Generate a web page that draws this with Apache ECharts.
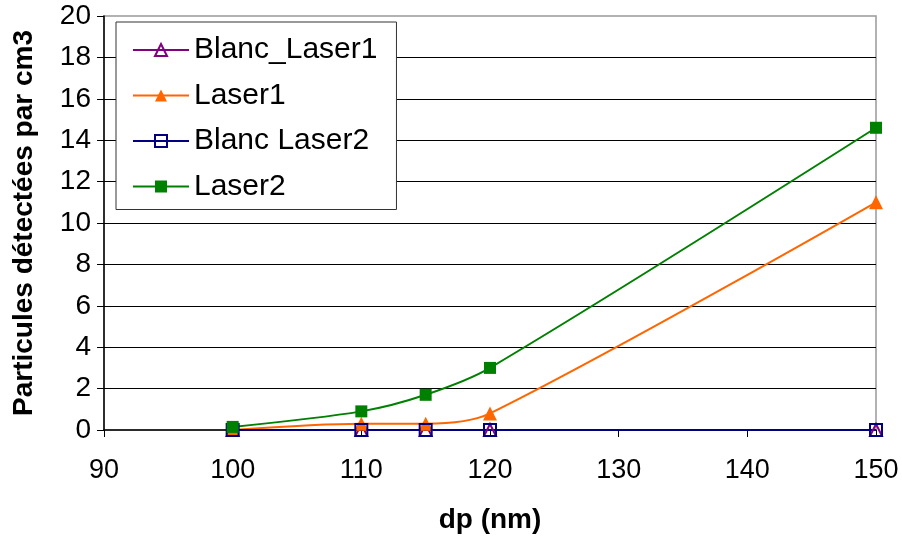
<!DOCTYPE html>
<html><head><meta charset="utf-8">
<script src="https://cdn.jsdelivr.net/npm/echarts@6/dist/echarts.min.js"></script>
<style>html,body{margin:0;padding:0;background:#fff}#c{width:902px;height:537px}</style>
</head><body><div id="c"></div>
<script>
const dp = [100, 110, 115, 120, 150];
const blancLaser1 = [0, 0, 0, 0, 0];
const laser1 = [0, 0.3, 0.3, 0.8, 11.0];
const blancLaser2 = [0, 0, 0, 0, 0];
const laser2 = [0.15, 0.9, 1.7, 3.0, 14.6];
const xTicks = [90, 100, 110, 120, 130, 140, 150];
const yTicks = [0, 2, 4, 6, 8, 10, 12, 14, 16, 18, 20];

const pairs = v => dp.map((x, i) => [x, v[i]]);
const FONT = 'Liberation Sans, Arial, sans-serif';

function mk(name, vals, color, symbol, hollow, size) {
  return {
    name, type: 'line', data: pairs(vals), smooth: 0.3,
    symbol, symbolSize: size,
    lineStyle: { color, width: 2 },
    itemStyle: hollow ? { color: 'rgba(0,0,0,0)', borderColor: color, borderWidth: 2 } : { color },
    emphasis: { disabled: true }
  };
}

const chart = echarts.init(document.getElementById('c'));
chart.setOption({
  animation: false,
  grid: { left: 104, right: 26, top: 16, bottom: 107, outerBoundsMode: 'none', containLabel: false,
          show: true, borderColor: '#999', borderWidth: 1.5, backgroundColor: 'transparent' },
  legend: {
    orient: 'vertical', left: 116, top: 22,
    backgroundColor: '#fff', borderColor: '#333', borderWidth: 1,
    padding: [13, 19, 8, 16], itemGap: 15.5, itemWidth: 56, itemHeight: 15,
    textStyle: { fontFamily: FONT, fontSize: 30, color: '#000' },
    data: ['Blanc_Laser1', 'Laser1', 'Blanc Laser2', 'Laser2']
  },
  xAxis: {
    type: 'value', min: xTicks[0], max: xTicks[xTicks.length - 1], interval: 10,
    name: 'dp (nm)', nameLocation: 'middle', nameGap: 76,
    nameTextStyle: { fontFamily: FONT, fontSize: 28, fontWeight: 'bold', color: '#000' },
    axisLine: { show: true, onZero: false, lineStyle: { color: '#000', width: 1.5 } },
    axisTick: { show: true, length: 7, inside: false, lineStyle: { color: '#000' } },
    axisLabel: { fontFamily: FONT, fontSize: 27, color: '#000', margin: 27 },
    splitLine: { show: false }
  },
  yAxis: {
    type: 'value', min: yTicks[0], max: yTicks[yTicks.length - 1], interval: 2,
    name: 'Particules détectées par cm3', nameLocation: 'middle', nameGap: 66,
    nameTextStyle: { fontFamily: FONT, fontSize: 28, fontWeight: 'bold', color: '#000' },
    axisLine: { show: true, lineStyle: { color: '#000', width: 1.5 } },
    axisTick: { show: true, length: 7, lineStyle: { color: '#000' } },
    axisLabel: { fontFamily: FONT, fontSize: 28, color: '#000', margin: 13 },
    splitLine: { show: true, showMinLine: false, showMaxLine: false, lineStyle: { color: '#000', width: 1 } }
  },
  series: [
    mk('Blanc_Laser1', blancLaser1, '#800080', 'triangle', true, 12),
    mk('Laser1', laser1, '#FF6600', 'triangle', false, 14),
    mk('Blanc Laser2', blancLaser2, '#000080', 'rect', true, 12),
    mk('Laser2', laser2, '#008000', 'rect', false, 12)
  ]
});
</script></body></html>
